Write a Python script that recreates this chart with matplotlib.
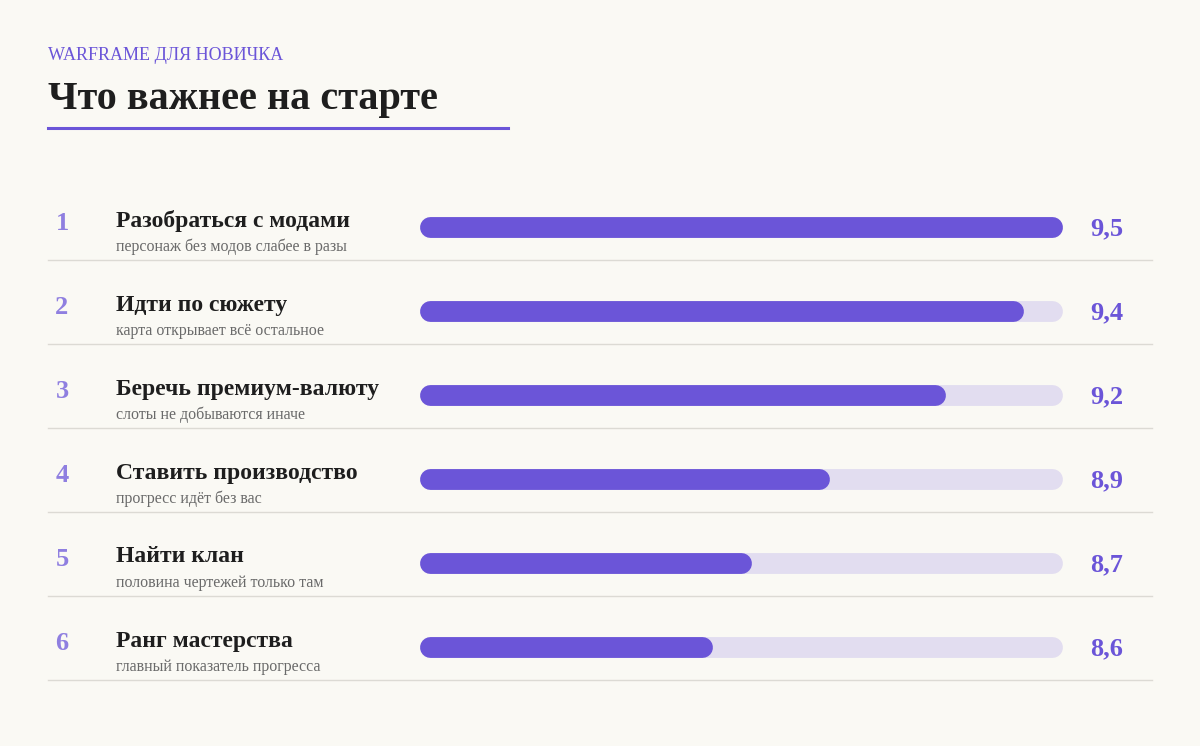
import matplotlib
matplotlib.use("Agg")
import matplotlib.pyplot as plt

ranks = ["1", "2", "3", "4", "5", "6"]
titles = ["Разобраться с модами", "Идти по сюжету", "Беречь премиум-валюту",
          "Ставить производство", "Найти клан", "Ранг мастерства"]
subtitles = ["персонаж без модов слабее в разы", "карта открывает всё остальное",
             "слоты не добываются иначе", "прогресс идёт без вас",
             "половина чертежей только там", "главный показатель прогресса"]
values = [9.5, 9.4, 9.2, 8.9, 8.7, 8.6]
value_labels = ["9,5", "9,4", "9,2", "8,9", "8,7", "8,6"]

W, H = 1200, 746
BG = "#faf9f4"
PURPLE = "#6b55d8"
TRACK = "#e2ddf0"
SERIF = ["Liberation Serif", "DejaVu Serif"]

fig = plt.figure(figsize=(W / 100, H / 100), dpi=100, facecolor=BG)
tx = fig.add_axes([0, 0, 1, 1])
tx.set_xlim(0, W); tx.set_ylim(H, 0); tx.axis("off"); tx.set_facecolor(BG)

tx.text(48, 56, "WARFRAME ДЛЯ НОВИЧКА", color=PURPLE, fontsize=13, family=SERIF, va="center")
tx.text(48, 100, "Что важнее на старте", color="#1e1e1e", fontsize=29, fontweight="bold",
        family=SERIF, va="center")
tx.plot([48, 508], [128, 128], color=PURPLE, lw=2.2)

x0, x1 = 430, 1052
vmin, vmax = 7.9, 9.5
bx = fig.add_axes([x0 / W, 0, (x1 - x0) / W, 1])
bx.set_xlim(vmin, vmax); bx.set_ylim(H, 0); bx.axis("off")

for i in range(len(values)):
    yc = 227 + 84 * i
    tx.text(62, yc - 3, ranks[i], color="#8f7fe0", fontsize=19, fontweight="bold",
            family=SERIF, va="center", ha="center")
    tx.text(116, yc - 6, titles[i], color="#1e1e1e", fontsize=17, fontweight="bold",
            family=SERIF, va="center", zorder=1)
    tx.text(116, yc + 20, subtitles[i], color="#6a6a6a", fontsize=11.5, family=SERIF, va="center")
    tx.plot([48, 1152], [yc + 33, yc + 33], color="#dcdad4", lw=1)
    bx.plot([vmin, vmax], [yc, yc], color=TRACK, lw=15, solid_capstyle="round", clip_on=False, zorder=2)
    bx.plot([vmin, values[i]], [yc, yc], color=PURPLE, lw=15, solid_capstyle="round", clip_on=False, zorder=3)
    tx.text(1107, yc + 2, value_labels[i], color=PURPLE, fontsize=19, fontweight="bold",
            family=SERIF, va="center", ha="center")

fig.savefig("out.png", dpi=100, facecolor=BG)
